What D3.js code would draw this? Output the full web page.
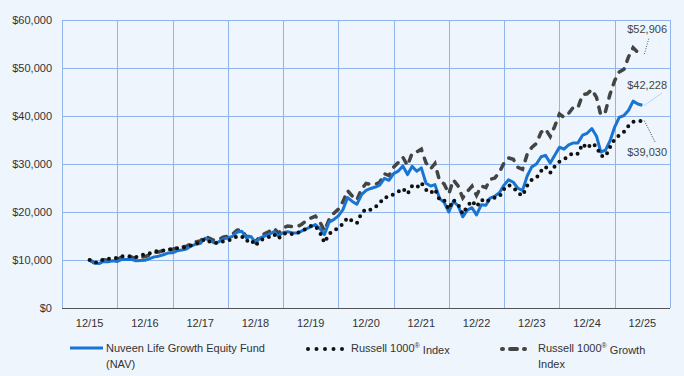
<!DOCTYPE html>
<html>
<head>
<meta charset="utf-8">
<script src="https://cdn.jsdelivr.net/npm/d3@7"></script>
<style>
  body { margin: 0; background: #eef5fc; }
  svg { display: block; font-family: "Liberation Sans", Arial, sans-serif; }
</style>
</head>
<body>
<div id="chart"></div>
<script>
// x tick labels (one per year end)
const yearLabels = ["12/15", "12/16", "12/17", "12/18", "12/19", "12/20", "12/21", "12/22", "12/23", "12/24", "12/25"];
const yTicks = [0, 10000, 20000, 30000, 40000, 50000, 60000];

// monthly values, 12/15 .. 12/25
const fundValues = [
  10000,
  9400, 9250, 9700, 9650, 9850, 9700, 10150, 10100, 10150, 9850, 9900, 9950,
  10300, 10650, 10800, 11100, 11450, 11500, 11900, 12100, 12300, 12900, 13300, 13450,
  14550, 14100, 13600, 13750, 14400, 14600, 14900, 15800, 16000, 14700, 14900, 13600,
  14600, 15000, 15300, 15900, 15000, 15700, 15900, 15700, 15600, 16000, 16500, 16900,
  17400, 16500, 15300, 17900, 18400, 19200, 20500, 23000, 22200, 21600, 23600, 24500,
  24900, 25200, 25600, 27000, 26600, 28000, 28500, 29600, 27800, 29500, 28500, 29200,
  26000, 25400, 25700, 22800, 22000, 20000, 22200, 21300, 19000, 20400, 20900, 19400,
  21500, 21400, 22900, 23300, 24000, 25600, 26700, 26200, 24900, 24500, 27500, 29400,
  30000, 31500, 31800, 30200, 31800, 33500, 33100, 34000, 34400, 34400, 36000, 36400,
  37400, 35800, 32500, 32900, 34800, 37700, 39700, 40100, 41200, 43100, 42500, 42228
];

const r1000Values = [
  10000,
  9500, 9490, 10155, 10205, 10380, 10400, 10785, 10795, 10795, 10580, 11015, 11205,
  11418, 11840, 11852, 11982, 12126, 12211, 12455, 12480, 12742, 13035, 13426, 13635,
  14385, 13824, 13506, 13547, 13872, 13955, 14430, 14906, 14966, 13903, 14280, 12983,
  14073, 14552, 14799, 15391, 14406, 15414, 15645, 15364, 15625, 15953, 16559, 17064,
  17081, 15680, 13610, 15407, 16223, 16580, 17558, 18822, 18126, 17673, 19758, 20641,
  20455, 21048, 21848, 23028, 23120, 23698, 24195, 24897, 23752, 25414, 25033, 26100,
  24638, 23924, 24737, 22535, 22490, 20601, 22517, 21616, 19606, 21174, 22318, 21107,
  22563, 22022, 22727, 22999, 23206, 24784, 25627, 25166, 23983, 23407, 25500, 26707,
  27081, 28543, 29457, 28190, 29515, 30489, 30946, 31689, 32354, 32128, 34184, 33253,
  34317, 33665, 31712, 31522, 33476, 35183, 35957, 36676, 37960, 38795, 38911, 39030
];

const r1000gValues = [
  10000,
  9440, 9412, 10052, 9961, 10170, 10130, 10616, 10563, 10605, 10351, 10568, 10708,
  11072, 11537, 11675, 11944, 12255, 12218, 12548, 12724, 12877, 13379, 13794, 13943,
  14933, 14530, 14108, 14151, 14759, 14922, 15354, 16199, 16296, 14829, 14993, 13732,
  14968, 15507, 15941, 16658, 15609, 16686, 17070, 16933, 16933, 17407, 18173, 18729,
  19141, 17839, 16091, 18473, 19710, 20578, 22162, 24445, 23296, 22504, 24799, 25938,
  25758, 25758, 26196, 27977, 27586, 29324, 30291, 31412, 29653, 32233, 32523, 33097,
  30250, 28980, 30110, 26467, 25858, 23815, 26673, 25419, 22953, 24284, 25377, 23453,
  25400, 25095, 26802, 27070, 28315, 30240, 31268, 30987, 29314, 28903, 32054, 33463,
  34299, 36631, 37291, 35725, 37868, 40405, 39718, 40552, 41850, 41724, 44436, 44626,
  45519, 43880, 40194, 40917, 44518, 47367, 49167, 49708, 52343, 54227, 53251, 52906
];

const W = 684, H = 376;
const plot = { left: 62, right: 670, top: 20, bottom: 308 };
const bg = "#eef5fc";
const gridColor = "#8fb5ea";
const blue = "#1a74d2";

const svg = d3.select("#chart").append("svg")
  .attr("width", W)
  .attr("height", H);

svg.append("rect").attr("width", W).attr("height", H).attr("fill", bg);

const dates = fundValues.map((d, i) => d3.timeMonth.offset(new Date(2015, 11, 1), i));

const xBand = d3.scaleBand()
  .domain(yearLabels)
  .range([plot.left, plot.right]);

const x = d3.scaleTime()
  .domain([dates[0], dates[dates.length - 1]])
  .range([xBand(yearLabels[0]) + xBand.bandwidth() / 2,
          xBand(yearLabels[yearLabels.length - 1]) + xBand.bandwidth() / 2]);

const y = d3.scaleLinear()
  .domain([0, 60000])
  .range([plot.bottom, plot.top]);

// gridlines
const grid = svg.append("g");
grid.selectAll(".hg")
  .data(yTicks.filter(d => d > 0))
  .enter().append("line")
  .attr("x1", plot.left).attr("x2", plot.right)
  .attr("y1", d => Math.round(y(d)) + 0.5).attr("y2", d => Math.round(y(d)) + 0.5)
  .attr("stroke", gridColor).attr("stroke-width", 1);

const vPos = yearLabels.map(d => xBand(d)).concat([plot.right]);
grid.selectAll(".vg")
  .data(vPos)
  .enter().append("line")
  .attr("x1", d => Math.round(d) + 0.5).attr("x2", d => Math.round(d) + 0.5)
  .attr("y1", plot.top).attr("y2", plot.bottom)
  .attr("stroke", gridColor).attr("stroke-width", 1);

// baseline
svg.append("line")
  .attr("x1", plot.left).attr("x2", plot.right)
  .attr("y1", plot.bottom + 0.5).attr("y2", plot.bottom + 0.5)
  .attr("stroke", "#555").attr("stroke-width", 1.2);

// y axis labels
svg.append("g").selectAll("text")
  .data(yTicks)
  .enter().append("text")
  .attr("x", 52)
  .attr("y", d => y(d))
  .attr("dy", "0.35em")
  .attr("text-anchor", "end")
  .attr("font-size", 11)
  .attr("fill", "#333")
  .text(d => d3.format("$,")(d));

// x axis labels
svg.append("g").selectAll("text")
  .data(yearLabels)
  .enter().append("text")
  .attr("x", d => xBand(d) + xBand.bandwidth() / 2)
  .attr("y", 323)
  .attr("dy", "0.35em")
  .attr("text-anchor", "middle")
  .attr("font-size", 11)
  .attr("fill", "#333")
  .text(d => d);

const line = d3.line()
  .x((d, i) => x(dates[i]))
  .y(d => y(d));

// Russell 1000 Growth (dashed)
svg.append("path")
  .datum(r1000gValues)
  .attr("d", line)
  .attr("fill", "none")
  .attr("stroke", "#444")
  .attr("stroke-width", 3.5)
  .attr("stroke-linecap", "round")
  .attr("stroke-dasharray", "6 8");

// Fund (solid blue)
svg.append("path")
  .datum(fundValues)
  .attr("d", line)
  .attr("fill", "none")
  .attr("stroke", blue)
  .attr("stroke-width", 3)
  .attr("stroke-linejoin", "round");

// Russell 1000 (dotted)
svg.append("path")
  .datum(r1000Values)
  .attr("d", line)
  .attr("fill", "none")
  .attr("stroke", "#111")
  .attr("stroke-width", 4)
  .attr("stroke-linecap", "round")
  .attr("stroke-dasharray", "0 7");

// end value callouts
const last = dates.length - 1;
const callouts = [
  { v: r1000gValues[last], tx: 667, ty: 29, lx: 649, ly: 38, color: "#555" },
  { v: fundValues[last], tx: 667, ty: 85, lx: 662, ly: 93, color: "#6aa8ea" },
  { v: r1000Values[last], tx: 667, ty: 152, lx: 655, ly: 142, color: "#333" }
];
const cg = svg.append("g");
callouts.forEach(c => {
  cg.append("line")
    .attr("x1", x(dates[last]) + 2).attr("y1", y(c.v))
    .attr("x2", c.lx).attr("y2", c.ly)
    .attr("stroke", c.color).attr("stroke-width", 1)
    .attr("stroke-dasharray", "1 1.5");
  cg.append("text")
    .attr("x", c.tx).attr("y", c.ty)
    .attr("dy", "0.35em")
    .attr("text-anchor", "end")
    .attr("font-size", 11)
    .attr("fill", "#444")
    .text(d3.format("$,")(c.v));
});

// legend
const lg = svg.append("g").attr("font-size", 11).attr("fill", "#333");
const row1 = 348, row2 = 364;

lg.append("line")
  .attr("x1", 70).attr("x2", 103).attr("y1", row1).attr("y2", row1)
  .attr("stroke", blue).attr("stroke-width", 3);
lg.append("text").attr("x", 106).attr("y", row1).attr("dy", "0.35em").text("Nuveen Life Growth Equity Fund");
lg.append("text").attr("x", 106).attr("y", row2).attr("dy", "0.35em").text("(NAV)");

lg.append("line")
  .attr("x1", 308).attr("x2", 344).attr("y1", row1 + 1).attr("y2", row1 + 1)
  .attr("stroke", "#111").attr("stroke-width", 4)
  .attr("stroke-linecap", "round").attr("stroke-dasharray", "0 8.5");
const t2 = lg.append("text").attr("x", 351).attr("y", row1).attr("dy", "0.35em");
t2.append("tspan").text("Russell 1000");
t2.append("tspan").attr("font-size", 7).attr("dy", "-0.5em").text("®");
t2.append("tspan").attr("dy", "0.5em").text(" Index");

lg.append("path")
  .attr("d", `M${502},${row1 + 1}L${534},${row1 + 1}`)
  .attr("stroke", "#444").attr("stroke-width", 4)
  .attr("stroke-linecap", "round").attr("stroke-dasharray", "1 7 7 7 1 40");
const t3 = lg.append("text").attr("x", 538).attr("y", row1).attr("dy", "0.35em");
t3.append("tspan").text("Russell 1000");
t3.append("tspan").attr("font-size", 7).attr("dy", "-0.5em").text("®");
t3.append("tspan").attr("dy", "0.5em").text(" Growth");
lg.append("text").attr("x", 538).attr("y", row2).attr("dy", "0.35em").text("Index");
</script>
</body>
</html>
